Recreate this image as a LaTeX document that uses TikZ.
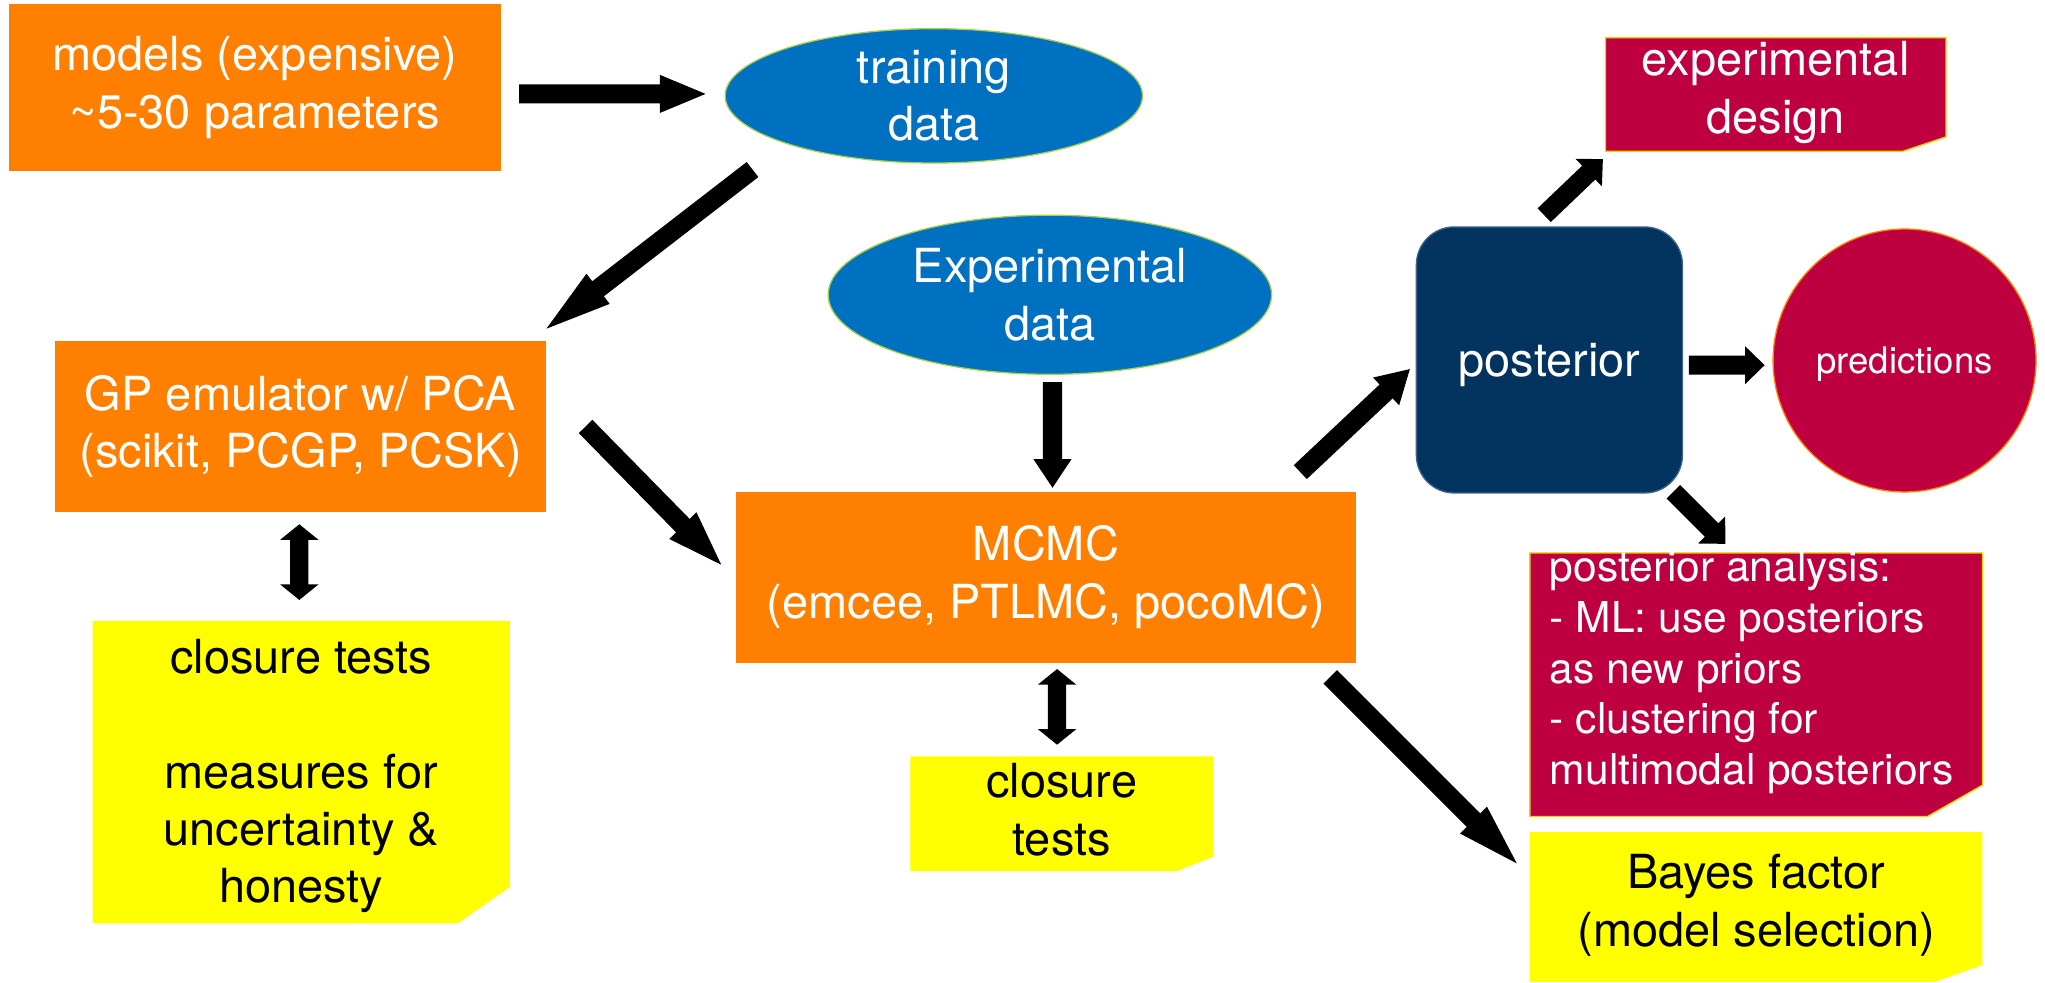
\documentclass[tikz,border=0pt]{standalone}
\usepackage{fontspec}
\setmainfont{TeX Gyre Heros}
\usetikzlibrary{calc,shapes.geometric}
\definecolor{korange}{HTML}{FF8000}
\definecolor{kblue}{HTML}{0070C0}
\definecolor{knavy}{HTML}{03335F}
\definecolor{kred}{HTML}{BE0040}
\definecolor{kyellow}{HTML}{FFFF00}
\definecolor{kgreen}{HTML}{A6D04A}
\definecolor{kedge}{HTML}{F2D000}
\newcommand\blockarrow[3]{%
  \coordinate (#2-hb) at ($(#2)!#3!(#1)$);
  \fill[black] ($(#1)!3.65pt!90:(#2)$) -- ($(#2-hb)!3.65pt!-90:(#1)$) -- ($(#2-hb)!7.3pt!-90:(#1)$) -- (#2) -- ($(#2-hb)!7.3pt!90:(#1)$) -- ($(#2-hb)!3.65pt!90:(#1)$) -- ($(#1)!3.65pt!-90:(#2)$) -- cycle;
}
\newcommand\dblarrow[3]{%
  \coordinate (#1-hb) at ($(#1)!#3!(#2)$);
  \coordinate (#2-hb) at ($(#2)!#3!(#1)$);
  \fill[black] (#1) -- ($(#1-hb)!7.4pt!90:(#2)$) -- ($(#1-hb)!3.5pt!90:(#2)$) -- ($(#2-hb)!3.5pt!-90:(#1)$) -- ($(#2-hb)!7.4pt!-90:(#1)$) -- (#2) -- ($(#2-hb)!7.4pt!90:(#1)$) -- ($(#2-hb)!3.5pt!90:(#1)$) -- ($(#1-hb)!3.5pt!-90:(#2)$) -- ($(#1-hb)!7.4pt!-90:(#2)$) -- cycle;
}
\begin{document}
\begin{tikzpicture}[x=0.5pt,y=-0.5pt,
  txt/.style={font=\fontsize{18}{22}\selectfont, align=center, inner sep=0pt},
  whitetxt/.style={txt, text=white},
  obox/.style={rectangle, fill=korange, whitetxt},
  blob/.style={ellipse, fill=kblue, draw=kgreen, line width=0.5pt, whitetxt, inner sep=0pt},
  notey/.style={fill=kyellow},
  noter/.style={fill=kred, draw=kedge, line width=0.5pt},
]
\fill[white] (0,0) rectangle (1568,753);
\useasboundingbox (0,0) rectangle (1568,753);

% nodes
\node[obox, minimum width=188.5pt, minimum height=64pt] (models) at (195.5,67) {models (expensive)\\\textasciitilde5-30 parameters};
\node[blob, minimum width=160pt, minimum height=51.5pt] (train) at (716,73.5) {training\\data};
\node[obox, minimum width=188.5pt, minimum height=65.25pt] (gp) at (230.5,327) {GP emulator w/ PCA\\(scikit, PCGP, PCSK)};
\node[blob, minimum width=170pt, minimum height=61pt] (expdata) at (805,226) {Experimental\\data};
\node[obox, minimum width=238pt, minimum height=65.5pt] (mcmc) at (802,442.5) {MCMC\\(emcee, PTLMC, pocoMC)};
\node[rectangle, rounded corners=14.5pt, fill=knavy, draw=knavy!75!white, line width=0.5pt, minimum width=102pt, minimum height=102pt, whitetxt, text depth=0pt] (post) at (1188,276) {posterior};
\node[circle, fill=kred, draw=orange, line width=0.5pt, minimum size=100.8pt, whitetxt, text depth=0pt, font=\fontsize{14}{17}\selectfont] (pred) at (1460.3,276.4) {predictions};

% notes
\fill[notey] (71,476) -- (391,476) -- (391,680) -- (351,708) -- (71,708) -- cycle;
\node[txt] (ct1) at (231,595) {closure tests\\[22pt]measures for\\uncertainty \&\\honesty};
\fill[notey] (698,580) -- (930,580) -- (930,657) -- (902,668) -- (698,668) -- cycle;
\node[txt] (ct2) at (814,621) {closure\\tests};
\filldraw[noter] (1231,29) -- (1492,29) -- (1492,105) -- (1459,116) -- (1231,116) -- cycle;
\node[whitetxt] (design) at (1361.5,71) {experimental\\design};
\filldraw[noter] (1173,424) -- (1520,424) -- (1520,602) -- (1478,626) -- (1173,626) -- cycle;
\node[anchor=north west, inner sep=0pt, text=white, align=left, font=\fontsize{16.3}{19.4}\selectfont] (analysis) at (1188,422) {posterior analysis:\\- ML: use posteriors\\as new priors\\- clustering for\\multimodal posteriors};
\fill[notey] (1173,638) -- (1520,638) -- (1520,740) -- (1483,753) -- (1173,753) -- cycle;
\node[txt] (bayes) at (1346.5,694) {Bayes factor\\(model selection)};

% connector end points
\coordinate (a1) at (398,72);    \coordinate (a2) at (541,72);
\coordinate (b1) at (577,130);   \coordinate (b2) at (419,252);
\coordinate (c1) at (449,327);   \coordinate (c2) at (553,433);
\coordinate (d1) at (807,293);   \coordinate (d2) at (807,374);
\coordinate (e1) at (997,362);   \coordinate (e2) at (1081,283);
\coordinate (f1) at (1184,165);  \coordinate (f2) at (1229,122);
\coordinate (g1) at (1295,280);  \coordinate (g2) at (1353,280);
\coordinate (h1) at (1283,377);  \coordinate (h2) at (1323,417);
\coordinate (i1) at (1020,519);  \coordinate (i2) at (1163,662);
\coordinate (j1) at (229.5,402); \coordinate (j2) at (229.5,460);
\coordinate (k1) at (810.5,513); \coordinate (k2) at (810.5,571);

\blockarrow{a1}{a2}{17.5pt}
\blockarrow{b1}{b2}{25pt}
\blockarrow{c1}{c2}{21pt}
\blockarrow{d1}{d2}{11pt}
\blockarrow{e1}{e2}{12.5pt}
\blockarrow{f1}{f2}{7.5pt}
\blockarrow{g1}{g2}{7.5pt}
\blockarrow{h1}{h2}{7.5pt}
\blockarrow{i1}{i2}{23.5pt}
\dblarrow{j1}{j2}{6pt}
\dblarrow{k1}{k2}{6pt}
\end{tikzpicture}
\end{document}
